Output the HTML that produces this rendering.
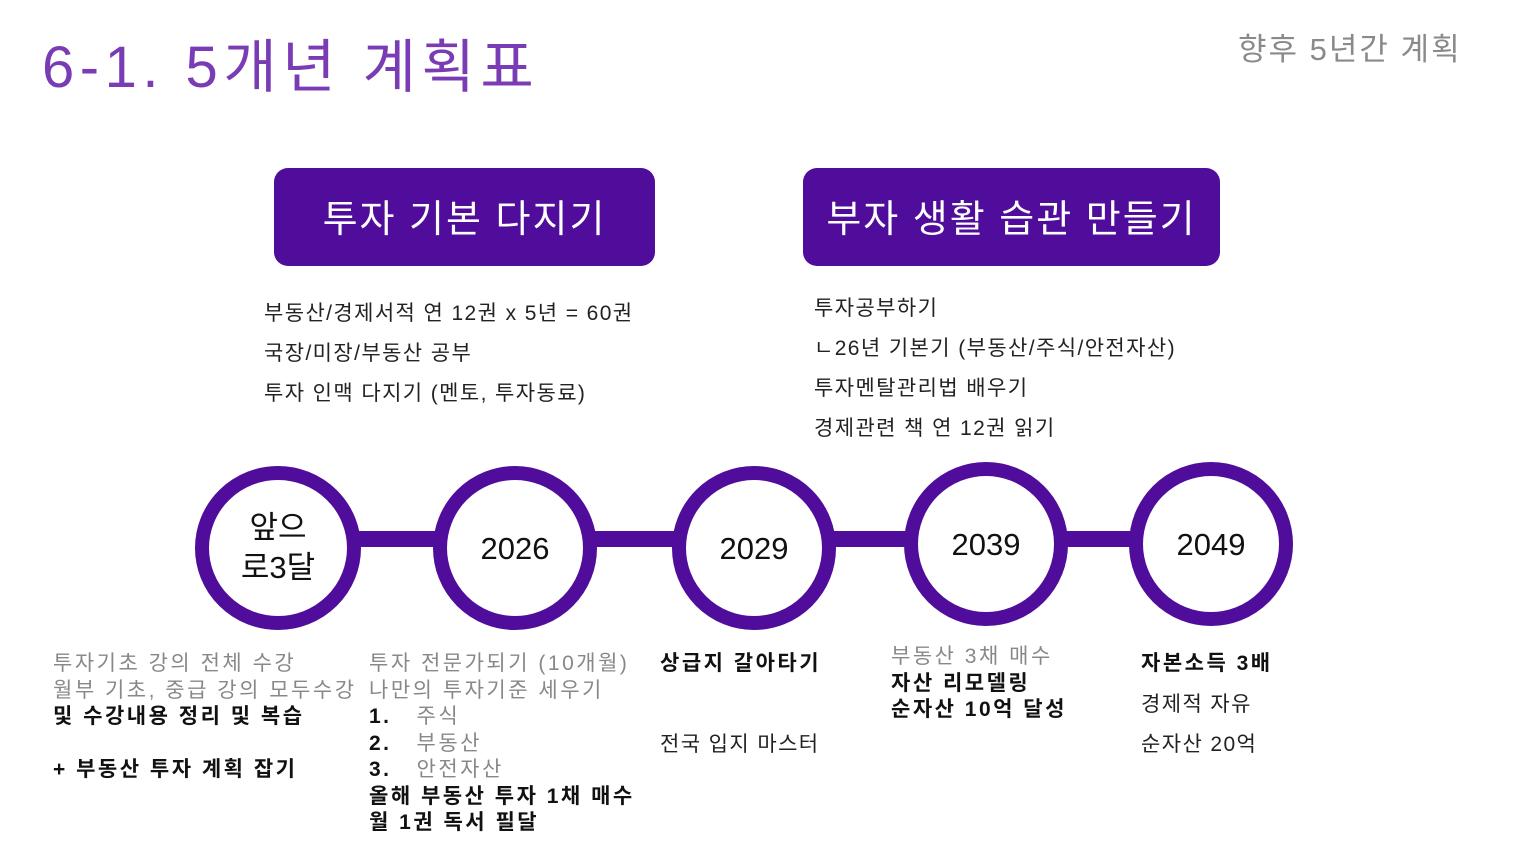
<!DOCTYPE html>
<html><head><meta charset="utf-8"><style>
body{margin:0;width:1520px;height:855px;background:#fff;position:relative;overflow:hidden;font-family:"Liberation Sans","Noto Sans CJK KR",sans-serif;}
.a{position:absolute;white-space:nowrap;}
.box{position:absolute;background:#500c9a;border-radius:14px;color:#fff;font-size:38px;display:flex;align-items:center;justify-content:center;letter-spacing:2px;}
.t{font-size:21px;color:#222;line-height:40px;letter-spacing:1.4px;}
.b{font-size:21px;font-weight:bold;color:#111;line-height:26.5px;letter-spacing:2.5px;}
.g{color:#888;font-weight:normal;}
</style></head><body>
<div class="a" style="left:42px;top:20px;font-size:58px;color:#7a3cb4;letter-spacing:5.5px;">6-1. 5개년 계획표</div>
<div class="a" style="left:1238px;top:24px;font-size:31px;color:#8a8a8a;letter-spacing:2px;">향후 5년간 계획</div>
<div class="box" style="left:274px;top:168px;width:381px;height:98px;padding-bottom:4px;box-sizing:border-box;">투자 기본 다지기</div>
<div class="box" style="left:803px;top:168px;width:417px;height:98px;padding-bottom:4px;box-sizing:border-box;">부자 생활 습관 만들기</div>
<div class="a t" style="left:264px;top:294px;">부동산/경제서적 연 12권 x 5년 = 60권<br>국장/미장/부동산 공부<br>투자 인맥 다지기 (멘토, 투자동료)</div>
<div class="a t" style="left:814px;top:289px;">투자공부하기<br>ㄴ26년 기본기 (부동산/주식/안전자산)<br>투자멘탈관리법 배우기<br>경제관련 책 연 12권 읽기</div>
<svg class="a" style="left:0;top:0" width="1520" height="855">
<rect x="340" y="531" width="880" height="16" fill="#500c9a"/>
<g fill="#fff" stroke="#500c9a" stroke-width="14">
<ellipse cx="278" cy="548" rx="76" ry="75"/>
<ellipse cx="515" cy="548" rx="75" ry="75"/>
<ellipse cx="754" cy="548" rx="75" ry="75"/>
<ellipse cx="986" cy="544" rx="75" ry="75"/>
<ellipse cx="1211" cy="544" rx="75" ry="75"/>
</g>
<g font-family="Liberation Sans, Noto Sans CJK KR, sans-serif" font-size="31" fill="#111" text-anchor="middle">
<text x="278" y="538">앞으</text><text x="278" y="578">로3달</text>
<text x="515" y="559">2026</text><text x="754" y="559">2029</text>
<text x="986" y="555">2039</text><text x="1211" y="555">2049</text>
</g></svg>
<div class="a b" style="left:53px;top:651px;"><span class="g">투자기초 강의 전체 수강<br>월부 기초, 중급 강의 모두수강</span><br>및 수강내용 정리 및 복습<br><br>+ 부동산 투자 계획 잡기</div>
<div class="a b" style="left:369px;top:651px;"><span class="g">투자 전문가되기 (10개월)<br>나만의 투자기준 세우기</span><br>1.&nbsp;&nbsp; <span class="g">주식</span><br>2.&nbsp;&nbsp; <span class="g">부동산</span><br>3.&nbsp;&nbsp; <span class="g">안전자산</span><br>올해 부동산 투자 1채 매수<br>월 1권 독서 필달</div>
<div class="a b" style="left:660px;top:651px;">상급지 갈아타기</div>
<div class="a t" style="left:660px;top:725px;">전국 입지 마스터</div>
<div class="a b" style="left:891px;top:644px;"><span class="g">부동산 3채 매수</span><br>자산 리모델링<br>순자산 10억 달성</div>
<div class="a b" style="left:1141px;top:651px;">자본소득 3배</div>
<div class="a t" style="left:1141px;top:685px;">경제적 자유<br>순자산 20억</div>
</body></html>
